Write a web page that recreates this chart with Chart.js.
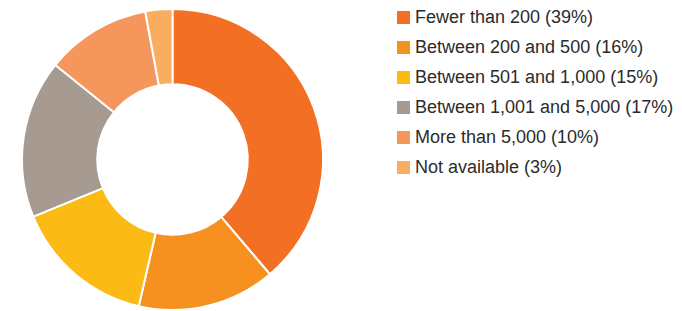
<!DOCTYPE html>
<html>
<head>
<meta charset="utf-8">
<script src="https://cdn.jsdelivr.net/npm/chart.js@4"></script>
<style>
    html, body { margin: 0; padding: 0; background: #fff; }
    #wrap { position: relative; width: 682px; height: 311px; }
    #pie-box { position: absolute; left: 0; top: 0; width: 345px; height: 311px; }
    #legend { position: absolute; left: 397px; top: 2px; margin: 0; padding: 0; list-style: none;
        font-family: "Liberation Sans", Arial, sans-serif; font-size: 18px; color: #2b2b2b; }
    #legend li { height: 30px; display: flex; align-items: center; white-space: nowrap; }
    #legend span.box { display: inline-block; width: 13px; height: 13px; margin-right: 5px; }
</style>
</head>
<body>
<div id="wrap">
    <div id="pie-box"><canvas id="donut-chart"></canvas></div>
    <ul id="legend"></ul>
</div>
<script>
const categories = ['Fewer than 200', 'Between 200 and 500', 'Between 501 and 1,000', 'Between 1,001 and 5,000', 'More than 5,000', 'Not available'];
// percentuais impressos na legenda
const labelShares = [39, 16, 15, 17, 10, 3];
// tamanhos dos arcos
const arcShares = [38.8, 14.8, 15.2, 17.0, 11.3, 2.9];
const colors = ['#F36F24', '#F6901F', '#FBBB14', '#A79B91', '#F5965D', '#F9AD60'];

document.addEventListener('DOMContentLoaded', () => {
    // Legenda em HTML
    const legend = document.getElementById('legend');
    legend.innerHTML = categories.map((c, i) =>
        `<li><span class="box" style="background:${colors[i]}"></span>${c} (${labelShares[i]}%)</li>`).join('');

    const ctx = document.getElementById('donut-chart').getContext('2d');
    new Chart(ctx, {
        type: 'doughnut',
        data: {
            labels: categories,
            datasets: [{
                data: arcShares,
                backgroundColor: colors,
                borderColor: '#ffffff',
                borderWidth: 2
            }]
        },
        options: {
            responsive: true,
            maintainAspectRatio: false,
            animation: false,
            cutout: '50%',
            layout: { padding: { top: 8, bottom: 0 } },
            plugins: { legend: { display: false }, tooltip: { enabled: false } }
        }
    });
});
</script>
</body>
</html>
